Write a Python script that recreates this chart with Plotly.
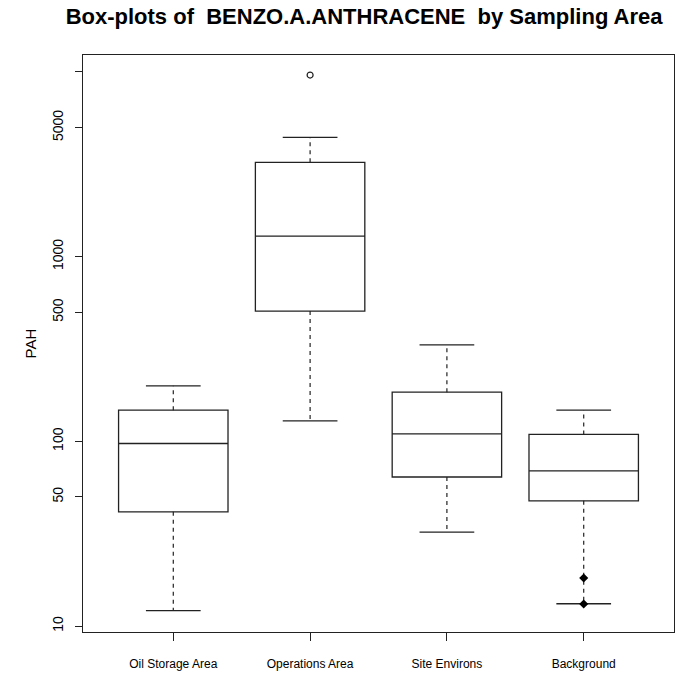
import plotly.graph_objects as go

categories = ["Oil Storage Area", "Operations Area", "Site Environs", "Background"]
positions = [1, 2, 3, 4]
lower_whisker = [12.1, 129, 32.2, 13.2]
q1 = [41.5, 507, 64.1, 47.6]
median = [97.3, 1291, 109.7, 69.1]
q3 = [147.4, 3238, 184.5, 108.9]
upper_whisker = [199.6, 4423, 332.8, 147.4]

open_outlier_x = [2]
open_outlier_y = [9620]
filled_outlier_x = [4, 4]
filled_outlier_y = [18.2, 13.15]

y_tickvals = [10, 50, 100, 500, 1000, 5000, 10000]
y_ticktext = ["10", "50", "100", "500", "1000", "5000", ""]

LINE = "#222222"
fig = go.Figure()

for i, c in enumerate(categories):
    p = positions[i]
    fig.add_trace(go.Box(
        x=[p], q1=[q1[i]], median=[median[i]], q3=[q3[i]],
        lowerfence=[q1[i]], upperfence=[q3[i]],
        width=0.8, whiskerwidth=0, fillcolor="white",
        line=dict(color=LINE, width=1.3), boxpoints=False,
        showlegend=False, hoverinfo="skip",
    ))
    # dashed whiskers
    fig.add_trace(go.Scatter(
        x=[p, p, None, p, p], y=[q3[i], upper_whisker[i], None, q1[i], lower_whisker[i]],
        mode="lines", line=dict(color=LINE, width=1.2, dash="4px,4px"),
        showlegend=False, hoverinfo="skip",
    ))
    # staples
    fig.add_trace(go.Scatter(
        x=[p - 0.2, p + 0.2, None, p - 0.2, p + 0.2],
        y=[upper_whisker[i], upper_whisker[i], None, lower_whisker[i], lower_whisker[i]],
        mode="lines", line=dict(color=LINE, width=1.3),
        showlegend=False, hoverinfo="skip",
    ))

fig.add_trace(go.Scatter(
    x=open_outlier_x, y=open_outlier_y, mode="markers",
    marker=dict(symbol="circle-open", size=6, color=LINE, line=dict(width=1.2)),
    showlegend=False, hoverinfo="skip",
))
fig.add_trace(go.Scatter(
    x=filled_outlier_x, y=filled_outlier_y, mode="markers",
    marker=dict(symbol="diamond", size=7, color="black"),
    showlegend=False, hoverinfo="skip",
))

fig.update_layout(
    width=678, height=675,
    margin=dict(l=83, r=4, t=55, b=43),
    paper_bgcolor="white", plot_bgcolor="white",
    font=dict(family="Liberation Sans, Arial, sans-serif", color="black", size=12),
    title=dict(
        text="<b>Box-plots of  BENZO.A.ANTHRACENE  by Sampling Area</b>",
        x=0.537, xref="container", xanchor="center",
        y=0.976, yref="container", yanchor="middle",
        font=dict(size=22, family="Liberation Sans, Arial, sans-serif", color="black"),
    ),
    xaxis=dict(
        range=[0.34, 4.66], tickvals=positions, ticktext=categories,
        showgrid=False, zeroline=False, showline=True, mirror=True,
        linecolor=LINE, linewidth=1.3, ticks="outside", ticklen=8,
        tickcolor=LINE, tickfont=dict(size=12), ticklabelstandoff=12,
    ),
    yaxis=dict(
        type="log", range=[0.9675, 4.0916],
        tickvals=y_tickvals, ticktext=y_ticktext, tickangle=-90,
        showgrid=False, zeroline=False, showline=True, mirror=True,
        linecolor=LINE, linewidth=1.3, ticks="outside", ticklen=7,
        tickcolor=LINE, tickfont=dict(size=14), ticklabelstandoff=6,
        title=dict(text="PAH", font=dict(size=15), standoff=10),
    ),
)

fig.write_html("out.html", config={"displayModeBar": False},
               post_script="document.body.style.margin='0px';")
